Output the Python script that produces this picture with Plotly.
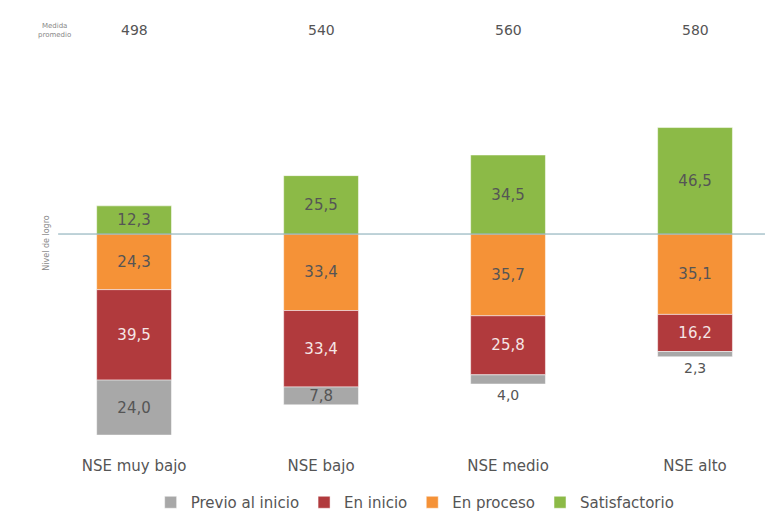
import plotly.graph_objects as go

categories = ["NSE muy bajo", "NSE bajo", "NSE medio", "NSE alto"]
mean_scores = ["498", "540", "560", "580"]
previo = [24.0, 7.8, 4.0, 2.3]
inicio = [39.5, 33.4, 25.8, 16.2]
proceso = [24.3, 33.4, 35.7, 35.1]
satisf = [12.3, 25.5, 34.5, 46.5]

xs = list(range(len(categories)))
FONT = "DejaVu Sans, Verdana, sans-serif"
TXT = "#555555"
H = 519


def fmt(v):
    return f"{v:.1f}".replace(".", ",")


def bar(vals, name, color, tcolor, rank, show=None):
    texts = [fmt(abs(v)) if (show is None or show(abs(v))) else "" for v in vals]
    return go.Bar(x=xs, y=vals, name=name,
                  marker=dict(color=color, line=dict(color="white", width=0.5)),
                  text=texts, textposition="inside",
                  insidetextanchor="middle", textangle=0,
                  textfont=dict(color=tcolor, size=15, family=FONT),
                  legendrank=rank, hoverinfo="skip")


fig = go.Figure()
# negative side stacks downward in trace order: proceso, inicio, previo
fig.add_trace(bar([-v for v in proceso], "En proceso", "#f59237", TXT, 3))
fig.add_trace(bar([-v for v in inicio], "En inicio", "#b13a3d", "#f5e6e6", 2))
fig.add_trace(bar([-v for v in previo], "Previo al inicio", "#a8a8a8", TXT, 1,
                  show=lambda v: v >= 5))
fig.add_trace(bar(satisf, "Satisfactorio", "#8cba47", TXT, 4))

# outside labels for small "previo" segments
for i, v in enumerate(previo):
    if v < 5:
        bottom = -(proceso[i] + inicio[i] + previo[i])
        fig.add_annotation(x=xs[i], y=bottom, text=fmt(v), showarrow=False,
                           yanchor="top", yshift=-1,
                           font=dict(color=TXT, size=14, family=FONT))

# mean scores on top
for i, s in enumerate(mean_scores):
    fig.add_annotation(x=xs[i], y=(H - 30) / H, yref="paper", text=s, showarrow=False,
                       yanchor="middle",
                       font=dict(color=TXT, size=14, family=FONT))

fig.add_annotation(x=36 / 776, xref="paper", y=(H - 31) / H, yref="paper",
                   text="Medida<br>promedio", showarrow=False, yanchor="middle",
                   font=dict(color="#888888", size=7, family=FONT))

fig.add_shape(type="line", x0=-0.406, x1=3.374, y0=0, y1=0,
              line=dict(color="#7fa6b3", width=1))
fig.add_annotation(x=40 / 776, xref="paper", y=-4, text="Nivel de logro", textangle=-90,
                   showarrow=False, font=dict(color="#888888", size=8, family=FONT))

fig.update_layout(
    width=776, height=H,
    barmode="relative", bargap=0.6,
    paper_bgcolor="white", plot_bgcolor="white",
    margin=dict(l=0, r=0, t=0, b=0),
    font=dict(family=FONT, color=TXT),
    uniformtext=dict(minsize=14, mode="show"),
    showlegend=True,
    legend=dict(orientation="h", x=0.535, xanchor="center", y=0, yanchor="bottom",
                font=dict(size=15, color=TXT, family=FONT), traceorder="normal",
                itemwidth=30),
    xaxis=dict(range=[-0.717, 3.433], tickvals=xs, ticktext=categories,
               showgrid=False, zeroline=False, showline=False, ticks="",
               automargin=False,
               tickfont=dict(size=15, color=TXT, family=FONT)),
    yaxis=dict(range=[-96.5, 76.0], visible=False, showgrid=False, zeroline=False,
               automargin=False, domain=[64 / H, (H - 60) / H]),
)

fig.write_html("out.html")
